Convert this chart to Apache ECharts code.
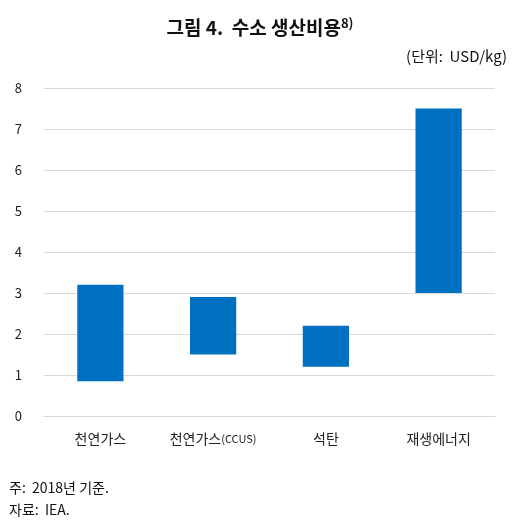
<!DOCTYPE html>
<html><head><meta charset="utf-8">
<script src="https://cdn.jsdelivr.net/npm/echarts@6/dist/echarts.min.js"></script>
<style>body{margin:0;background:#fff}#c{width:520px;height:520px}</style>
</head><body><div id="c"></div>
<script>
var categories = ['천연가스', '천연가스{s|(CCUS)}', '석탄', '재생에너지'];
var lowValues = [0.85, 1.5, 1.2, 3.0];
var highValues = [3.2, 2.9, 2.2, 7.5];
var yTicks = [0, 1, 2, 3, 4, 5, 6, 7, 8];

var spans = [];
for (var i = 0; i < lowValues.length; i++) {
	spans.push(+(highValues[i] - lowValues[i]).toFixed(2));
}
var font = '"Noto Sans CJK KR", sans-serif';
var chart = echarts.init(document.getElementById('c'));
chart.setOption({
	textStyle: { fontFamily: font },
	title: [{
		text: '그림 4.  수소 생산비용{s|8)}',
		left: 'center', top: 12,
		textStyle: { fontSize: 19, fontWeight: 'bold', color: '#111', fontFamily: font,
			rich: { s: { fontSize: 13, fontWeight: 'bold', verticalAlign: 'top', padding: [0, 0, 8, 0] } } }
	}, {
		text: '(단위:  USD/kg)',
		right: 8, top: 44,
		textStyle: { fontSize: 15, fontWeight: 'normal', color: '#111', fontFamily: font }
	}, {
		text: '주:  2018년 기준.\n자료:  IEA.',
		left: 4, top: 472,
		textStyle: { fontSize: 14, fontWeight: 'normal', color: '#111', lineHeight: 22, fontFamily: font }
	}],
	grid: { left: 44, right: 25, top: 88, bottom: 104 },
	xAxis: {
		type: 'category', data: categories,
		axisTick: { show: false },
		axisLine: { lineStyle: { color: '#d9d9d9' } },
		axisLabel: { color: '#222', fontSize: 14, margin: 16, interval: 0,
			rich: { s: { fontSize: 11, color: '#222' } } }
	},
	yAxis: {
		type: 'value', min: yTicks[0], max: yTicks[yTicks.length - 1], interval: 1,
		axisLine: { show: false }, axisTick: { show: false },
		splitLine: { lineStyle: { color: '#d9d9d9' } },
		axisLabel: { color: '#222', fontSize: 13, margin: 22 }
	},
	series: [{
		type: 'bar', stack: 'r', data: lowValues, barWidth: '41%',
		itemStyle: { color: 'transparent' }, silent: true
	}, {
		type: 'bar', stack: 'r', data: spans,
		itemStyle: { color: '#0070c0' }
	}]
});
</script></body></html>
